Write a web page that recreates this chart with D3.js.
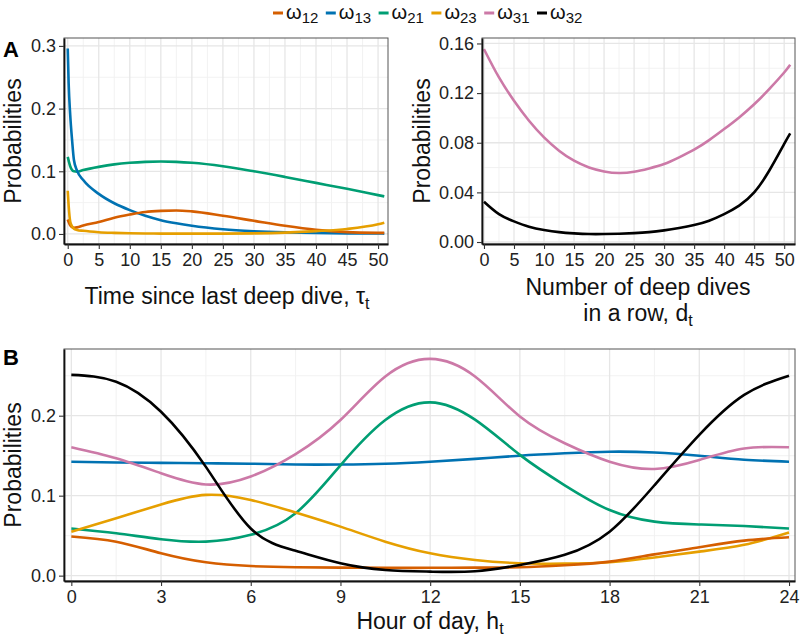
<!DOCTYPE html>
<html>
<head>
<meta charset="utf-8">
<script src="https://cdn.jsdelivr.net/npm/d3@7"></script>
<style>
  body { margin: 0; background: #fff; }
  svg { display: block; font-family: "Liberation Sans", Arial, Helvetica, sans-serif; }
</style>
</head>
<body>
<script>
// ---------------- DATA ----------------
const seriesKeys = ["12", "13", "21", "23", "31", "32"];
const seriesColors = ["#D55E00", "#0072B2", "#009E73", "#E69F00", "#CC79A7", "#000000"];

// Panel A (left): time since last deep dive
const tauX = [0, 0.15, 0.4, 0.7, 1, 1.5, 2.5, 5, 7.5, 10, 12.5, 15, 17.5, 20, 25, 30, 35, 40, 45, 50, 51];
const w12_tau = [0.023, 0.019, 0.014, 0.011, 0.010, 0.0105, 0.0135, 0.019, 0.026, 0.031, 0.035, 0.0368, 0.0375, 0.036, 0.029, 0.021, 0.013, 0.0066, 0.003, 0.0018, 0.0017];
const w13_tau = [0.296, 0.24, 0.19, 0.15, 0.118, 0.101, 0.086, 0.064, 0.049, 0.038, 0.029, 0.022, 0.017, 0.013, 0.0075, 0.0044, 0.0026, 0.0016, 0.001, 0.0007, 0.0006];
const w21_tau = [0.123, 0.117, 0.108, 0.102, 0.100, 0.0995, 0.102, 0.107, 0.111, 0.1135, 0.115, 0.1155, 0.115, 0.1135, 0.108, 0.100, 0.091, 0.0815, 0.072, 0.062, 0.060];
const w23_tau = [0.069, 0.045, 0.020, 0.012, 0.0085, 0.0065, 0.005, 0.0028, 0.0018, 0.0012, 0.0008, 0.0006, 0.0005, 0.0005, 0.0006, 0.001, 0.0022, 0.0045, 0.008, 0.0155, 0.018];

// Panel A (right): number of deep dives in a row
const dX = [0, 2.5, 5, 7.5, 10, 12.5, 15, 17.5, 20, 22.5, 25, 27.5, 30, 32.5, 35, 37.5, 40, 42.5, 45, 47.5, 50, 51];
const w31_d = [0.1554, 0.1326, 0.1138, 0.0977, 0.0843, 0.0736, 0.0655, 0.0601, 0.0569, 0.0556, 0.0566, 0.0593, 0.0628, 0.0682, 0.0744, 0.0821, 0.091, 0.1004, 0.111, 0.1232, 0.1366, 0.1428];
const w32_d = [0.0325, 0.0225, 0.0166, 0.0123, 0.0097, 0.008, 0.007, 0.0064, 0.0064, 0.0067, 0.0072, 0.008, 0.0094, 0.0113, 0.0137, 0.0172, 0.0225, 0.0293, 0.040, 0.0574, 0.079, 0.0875];

// Panel B: hour of day
const hourX = [0, 1.5, 3, 4.5, 6, 7.5, 9, 10.5, 12, 13.5, 15, 16.5, 18, 19.5, 21, 22.5, 24];
const w12_h = [0.049, 0.0425, 0.028, 0.0167, 0.012, 0.0105, 0.0100, 0.0098, 0.0098, 0.0100, 0.0105, 0.013, 0.0175, 0.0266, 0.0355, 0.0438, 0.048];
const w13_h = [0.1425, 0.1415, 0.141, 0.1405, 0.140, 0.139, 0.139, 0.140, 0.1425, 0.146, 0.150, 0.153, 0.155, 0.154, 0.150, 0.145, 0.1425];
const w21_h = [0.059, 0.053, 0.0455, 0.0425, 0.051, 0.078, 0.138, 0.1946, 0.2167, 0.195, 0.151, 0.113, 0.082, 0.0675, 0.064, 0.062, 0.059];
const w23_h = [0.055, 0.0717, 0.089, 0.101, 0.0946, 0.079, 0.0613, 0.0425, 0.028, 0.0196, 0.0155, 0.015, 0.0168, 0.0227, 0.030, 0.0385, 0.054];
const w31_h = [0.1605, 0.1467, 0.128, 0.114, 0.124, 0.152, 0.1946, 0.249, 0.271, 0.249, 0.199, 0.1655, 0.1425, 0.1334, 0.1446, 0.159, 0.1605];
const w32_h = [0.251, 0.2425, 0.205, 0.136, 0.059, 0.031, 0.0155, 0.0071, 0.005, 0.0055, 0.0134, 0.026, 0.055, 0.113, 0.176, 0.226, 0.250];

const tauTicks = [0, 5, 10, 15, 20, 25, 30, 35, 40, 45, 50];
const dTicks = [0, 5, 10, 15, 20, 25, 30, 35, 40, 45, 50];
const hourTicks = [0, 3, 6, 9, 12, 15, 18, 21, 24];
const yTicksTau = [0, 0.1, 0.2, 0.3];
const yTicksD = [0, 0.04, 0.08, 0.12, 0.16];
const yTicksH = [0, 0.1, 0.2];

// ---------------- DRAW ----------------
const W = 800, H = 637;
const svg = d3.select("body").append("svg").attr("width", W).attr("height", H);
const tickFont = 18, titleFont = 23;

function minorOf(ticks, domain) {
  const step = ticks[1] - ticks[0];
  const out = [];
  for (let i = -1; i < ticks.length; i++) {
    const v = (i < 0 ? ticks[0] - step : ticks[i]) + step / 2;
    if (v > domain[0] && v < domain[1]) out.push(v);
  }
  return out;
}

function panel(cfg) {
  const x = d3.scaleLinear().domain(cfg.xDomain).range([cfg.left, cfg.right]);
  const y = d3.scaleLinear().domain(cfg.yDomain).range([cfg.bottom, cfg.top]);
  const g = svg.append("g");
  const xMinor = minorOf(cfg.xTicks, cfg.xDomain);
  const yMinor = minorOf(cfg.yTicks, cfg.yDomain);
  g.selectAll(".xm").data(xMinor).join("line")
    .attr("x1", d => x(d)).attr("x2", d => x(d)).attr("y1", cfg.top).attr("y2", cfg.bottom)
    .attr("stroke", "#F0F0F0").attr("stroke-width", 0.9);
  g.selectAll(".ym").data(yMinor).join("line")
    .attr("y1", d => y(d)).attr("y2", d => y(d)).attr("x1", cfg.left).attr("x2", cfg.right)
    .attr("stroke", "#F0F0F0").attr("stroke-width", 0.9);
  g.selectAll(".xg").data(cfg.xTicks).join("line")
    .attr("x1", d => x(d)).attr("x2", d => x(d)).attr("y1", cfg.top).attr("y2", cfg.bottom)
    .attr("stroke", "#E6E6E6").attr("stroke-width", 1.3);
  g.selectAll(".yg").data(cfg.yTicks).join("line")
    .attr("y1", d => y(d)).attr("y2", d => y(d)).attr("x1", cfg.left).attr("x2", cfg.right)
    .attr("stroke", "#E6E6E6").attr("stroke-width", 1.3);
  const line = d3.line().x(d => x(d[0])).y(d => y(d[1])).curve(cfg.curve);
  cfg.series.forEach(s => {
    g.append("path").datum(s.xs.map((v, i) => [v, s.ys[i]]))
      .attr("d", line).attr("fill", "none").attr("stroke", s.color)
      .attr("stroke-width", 2.6).attr("stroke-linejoin", "round").attr("stroke-linecap", "butt");
  });
  g.append("rect").attr("x", cfg.left).attr("y", cfg.top)
    .attr("width", cfg.right - cfg.left).attr("height", cfg.bottom - cfg.top)
    .attr("fill", "none").attr("stroke", "#555").attr("stroke-width", 1);
  const xAxis = d3.axisBottom(x).tickValues(cfg.xTicks).tickSize(5).tickSizeOuter(0).tickPadding(4).tickFormat(d3.format("d"));
  const yAxis = d3.axisLeft(y).tickValues(cfg.yTicks).tickSize(5).tickSizeOuter(0).tickPadding(3).tickFormat(cfg.yFmt);
  const gx = g.append("g").attr("transform", `translate(0,${cfg.bottom})`).call(xAxis);
  const gy = g.append("g").attr("transform", `translate(${cfg.left},0)`).call(yAxis);
  [gx, gy].forEach(a => {
    a.select(".domain").attr("stroke", "#111").attr("stroke-width", 1.8);
    a.selectAll(".tick line").attr("stroke", "#333").attr("stroke-width", 1.1);
    a.selectAll(".tick text").attr("fill", "#222").style("font-size", tickFont + "px")
      .style("font-family", '"Liberation Sans", Arial, sans-serif');
  });
  return { x, y };
}

function series(xs, list) {
  return list.map(([ys, idx]) => ({ xs, ys, color: seriesColors[idx] }));
}

// Panel A left
panel({
  left: 64, right: 388, top: 38, bottom: 244,
  xDomain: [-0.6, 51.6], yDomain: [-0.016, 0.3126],
  xTicks: tauTicks, yTicks: yTicksTau, yFmt: d3.format(".1f"), curve: d3.curveMonotoneX,
  series: series(tauX, [[w21_tau, 2], [w13_tau, 1], [w12_tau, 0], [w23_tau, 3]])
});
// Panel A right
panel({
  left: 482, right: 795, top: 38, bottom: 244,
  xDomain: [-0.33, 51.8], yDomain: [-0.0016, 0.1644],
  xTicks: dTicks, yTicks: yTicksD, yFmt: d3.format(".2f"), curve: d3.curveNatural,
  series: series(dX, [[w31_d, 4], [w32_d, 5]])
});
// Panel B
panel({
  left: 64, right: 795, top: 349, bottom: 581,
  xDomain: [-0.245, 24.2], yDomain: [-0.0067, 0.2834],
  xTicks: hourTicks, yTicks: yTicksH, yFmt: d3.format(".1f"), curve: d3.curveNatural,
  series: series(hourX, [[w13_h, 1], [w31_h, 4], [w21_h, 2], [w23_h, 3], [w12_h, 0], [w32_h, 5]])
});

// Titles
function yTitle(cx, cy) {
  svg.append("text").attr("transform", `translate(${cx},${cy}) rotate(-90)`)
    .attr("text-anchor", "middle").style("font-size", titleFont + "px").attr("fill", "#111")
    .text("Probabilities");
}
yTitle(21, 141);
yTitle(430, 141);
yTitle(21, 465);

function subTitle(cx, y, main, sym, sub) {
  const t = svg.append("text").attr("x", cx).attr("y", y).attr("text-anchor", "middle")
    .style("font-size", titleFont + "px").attr("fill", "#111");
  t.append("tspan").text(main);
  if (sym) t.append("tspan").text(sym);
  t.append("tspan").attr("dy", 5).style("font-size", "16px").text(sub);
  return t;
}
subTitle(227, 304, "Time since last deep dive, ", "τ", "t");
svg.append("text").attr("x", 638).attr("y", 295).attr("text-anchor", "middle")
  .style("font-size", titleFont + "px").attr("fill", "#111").text("Number of deep dives");
subTitle(638, 321, "in a row, d", "", "t");
subTitle(430, 629, "Hour of day, h", "", "t");

// Panel tags
svg.append("text").attr("x", 3).attr("y", 57).style("font-size", "22px").style("font-weight", "bold").text("A");
svg.append("text").attr("x", 3).attr("y", 365).style("font-size", "22px").style("font-weight", "bold").text("B");

// Legend
const legendX = d3.scalePoint().domain(seriesKeys).range([273, 537]);
seriesKeys.forEach((k, i) => {
  const lx = legendX(k);
  svg.append("line").attr("x1", lx).attr("x2", lx + 10).attr("y1", 13).attr("y2", 13)
    .attr("stroke", seriesColors[i]).attr("stroke-width", 3);
  const t = svg.append("text").attr("x", lx + 13).attr("y", 18.5).attr("fill", "#111");
  t.append("tspan").style("font-size", "20px").text("ω");
  t.append("tspan").attr("dy", 4).style("font-size", "15px").text(k);
});
</script>
</body>
</html>
